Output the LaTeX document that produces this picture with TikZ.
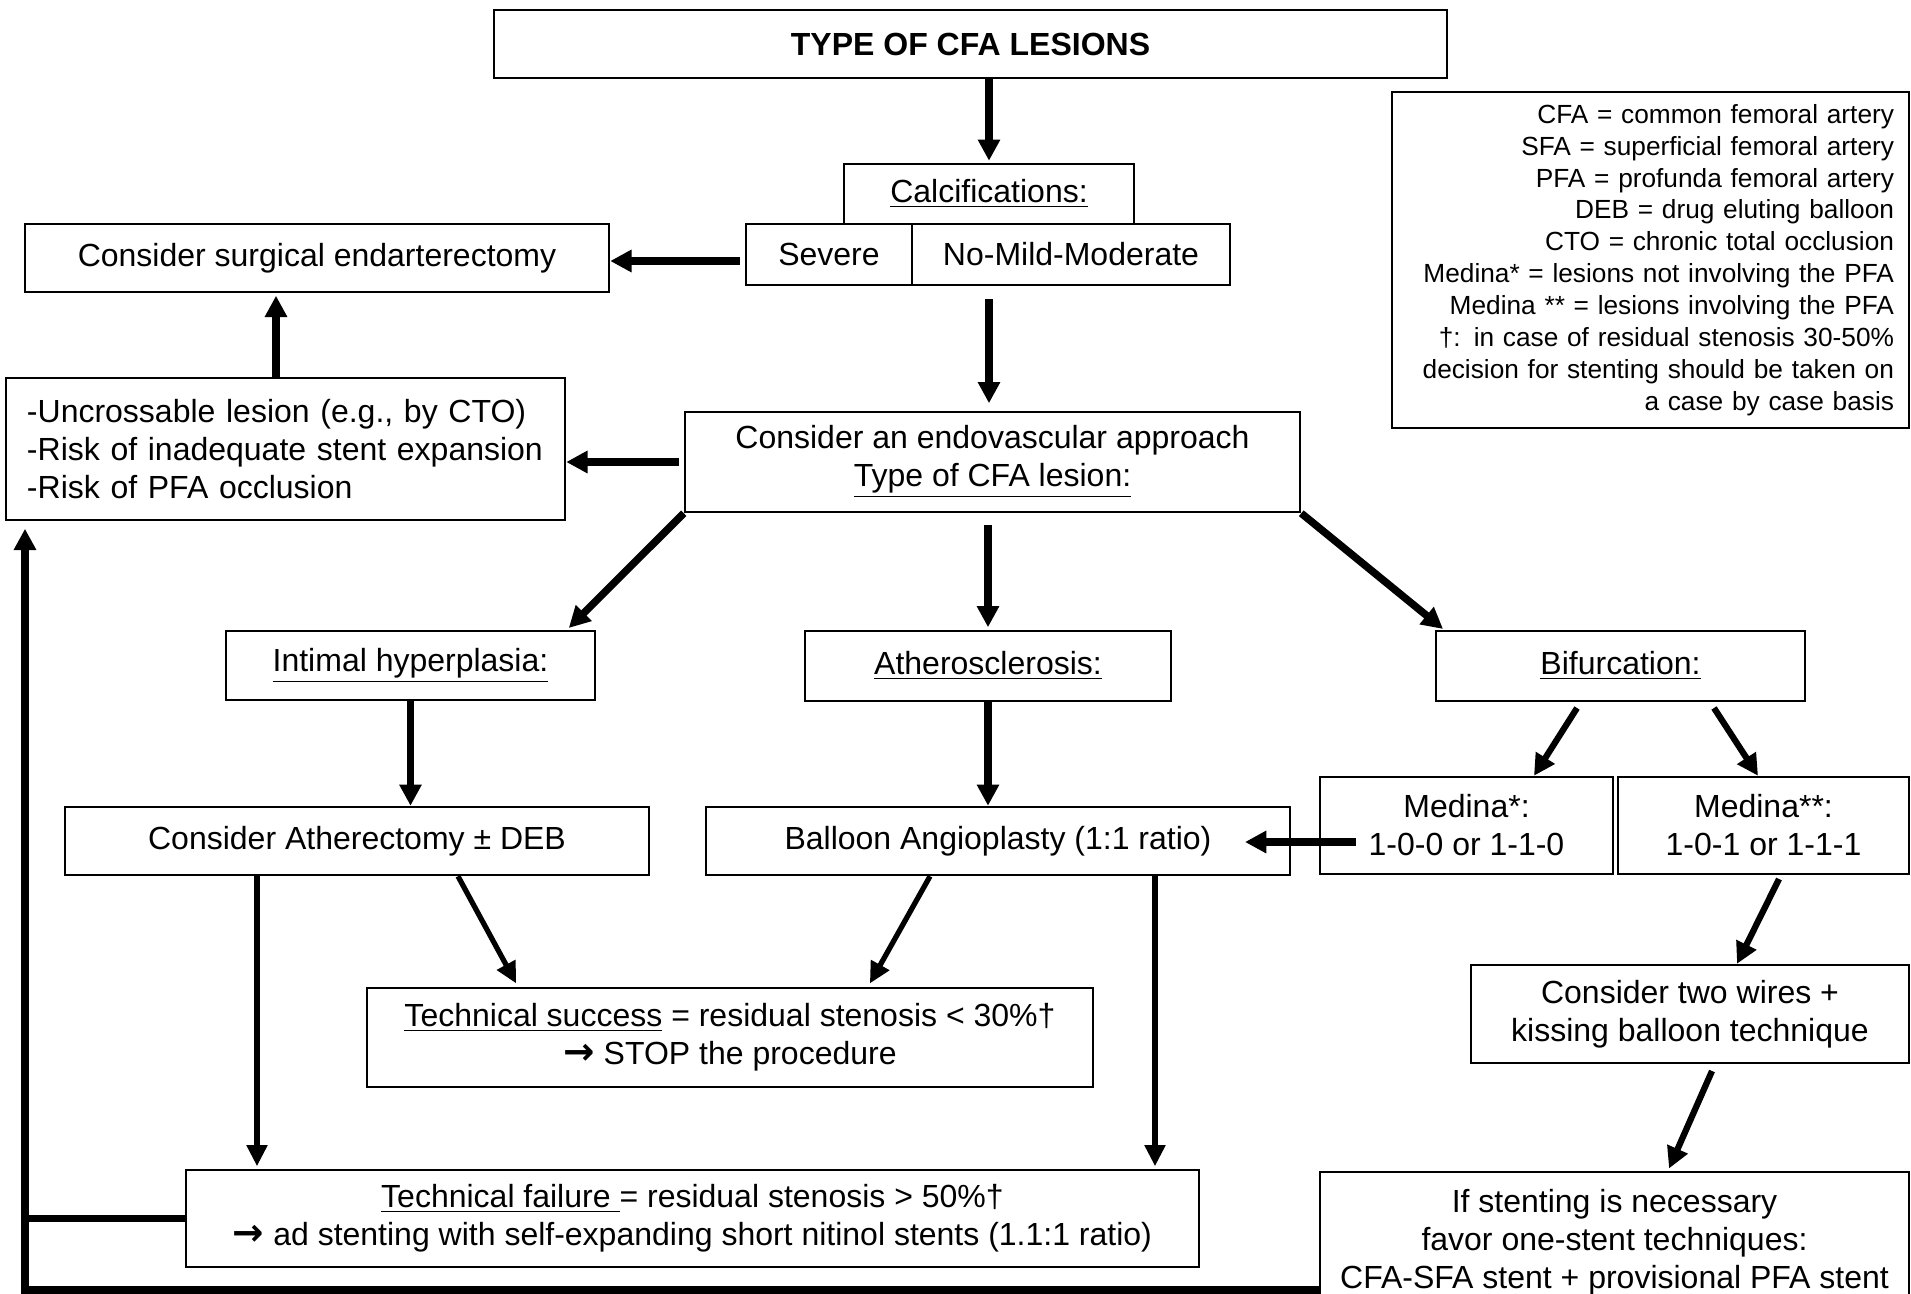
\documentclass[tikz,border=0pt]{standalone}
\usepackage{fontspec}
\setmainfont{Liberation Sans}
\newfontfamily\arrowfont{DejaVu Sans}
\usetikzlibrary{arrows.meta,calc}
\newcommand\mainfs{\fontsize{12.8}{15.2}\selectfont}
\newcommand\legfs{\fontsize{10.5}{12.76}\selectfont}
\newcommand\rarr{{\arrowfont\bfseries\fontsize{15}{15.2}\selectfont →}}
\tikzset{
  box/.style={draw=black, line width=1pt, fill=white, inner sep=0pt, align=center, font=\mainfs},
  arr/.style={line width=3pt, -{Triangle[length=8.5pt,width=8.5pt]}},
  arrmid/.style={line width=2.5pt, -{Triangle[length=8.5pt,width=8.5pt]}},
  arrthin/.style={line width=2.1pt, -{Triangle[length=8.5pt,width=8pt]}},
  fb/.style={line width=3pt},
}
% #1 options, #2 name, #3 x1, #4 y1, #5 x2, #6 y2, #7 text
\newcommand\mybox[7][]{%
  \node[box,#1,minimum width={(#5-#3)*0.4pt},minimum height={(#6-#4)*0.4pt}]
    (#2) at ({(#3+#5)/2},{(#4+#6)/2}) {#7};}
\begin{document}
\begin{tikzpicture}[x=0.4pt,y=-0.4pt]
\useasboundingbox (0,0) rectangle (1911,1293);
\fill[white] (0,0) rectangle (1911,1293);

% ---------- boxes ----------
\mybox{title}{494}{10}{1447}{78}{\bfseries TYPE OF CFA LESIONS}
\mybox{calc}{844}{164}{1134}{224}{\underline{Calcifications:}}
\mybox{sev}{746}{224}{912}{285}{Severe}
\mybox{nomild}{912}{224}{1230}{285}{No-Mild-Moderate}
\mybox{surg}{25}{224}{609}{292}{Consider surgical endarterectomy}
\mybox[text width=206.8pt, align=left]{uncross}{6}{378}{565}{520}{-Uncrossable lesion (e.g., by CTO)\\-Risk of inadequate stent expansion\\-Risk of PFA occlusion}
\mybox{endo}{685}{412}{1300}{512}{Consider an endovascular approach\\\underline{Type of CFA lesion:}}
\mybox[text width=194.8pt, align=right, font=\legfs]{legend}{1392}{92}{1909}{428}{CFA = common femoral artery\\SFA = superficial femoral artery\\PFA = profunda femoral artery\\DEB = drug eluting balloon\\CTO = chronic total occlusion\\Medina* = lesions not involving the PFA\\Medina ** = lesions involving the PFA\\†: in case of residual stenosis 30-50\%\\decision for stenting should be taken on\\a case by case basis}
\mybox{intimal}{226}{631}{595}{700}{\underline{Intimal hyperplasia:}}
\mybox{athero}{805}{631}{1171}{701}{\underline{Atherosclerosis:}}
\mybox{bif}{1436}{631}{1805}{701}{\underline{Bifurcation:}}
\mybox{ather}{65}{807}{649}{875}{Consider Atherectomy ± DEB}
\mybox{balloon}{706}{807}{1290}{875}{Balloon Angioplasty (1:1 ratio)}
\mybox{med1}{1320}{777}{1613}{874}{Medina*:\\1-0-0 or 1-1-0}
\mybox{med2}{1618}{777}{1909}{874}{Medina**:\\1-0-1 or 1-1-1}
\mybox{wires}{1471}{965}{1909}{1063}{Consider two wires +\\kissing balloon technique}
\mybox{success}{367}{988}{1093}{1087}{\underline{Technical success} = residual stenosis < 30\%†\\\rarr\ STOP the procedure}
\mybox{failure}{186}{1170}{1199}{1267}{\underline{Technical failure\ }= residual stenosis > 50\%†\\\rarr\ ad stenting with self-expanding short nitinol stents (1.1:1 ratio)}
\mybox{stent}{1320}{1172}{1909}{1312}{If stenting is necessary\\favor one-stent techniques:\\CFA-SFA stent + provisional PFA stent}

% ---------- helper coordinates ----------
\coordinate (s1) at ($(sev.west)+(-5,6.5)$);
\coordinate (ux) at (276,0);
\coordinate (ix) at (567,0);
\coordinate (bx) at (1444,0);
\coordinate (b1s) at (1577,708);
\coordinate (b1t) at (1534,0);
\coordinate (b2s) at (1714,708);
\coordinate (b2t) at (1758,0);
\coordinate (m1s) at (1356,842);
\coordinate (m1t) at (1245,842);
\coordinate (m2s) at (1779,879);
\coordinate (m2t) at (1737,0);
\coordinate (a1s) at (458,0);
\coordinate (a1t) at (518,0);
\coordinate (a2s) at (930,0);
\coordinate (a2t) at (868,0);
\coordinate (fx1) at (257,0);
\coordinate (fx2) at (1155,0);
\coordinate (w1s) at (1712,1071);
\coordinate (w1t) at (1668,0);
\coordinate (fbx) at (25,0);
\coordinate (fbb) at (0,1290);

% ---------- connectors ----------
\draw[arr, shorten >=0.8pt] (calc.north |- title.south) -- (calc.north);
\draw[arr] (s1) -- (surg.east |- s1);
\draw[arr, shorten <=5pt, shorten >=3pt] (sev.south -| calc.south) -- (endo.north -| calc.south);
\draw[arr, shorten <=2pt] (endo.west) -- (uncross.east |- endo.west);
\draw[arr, shorten >=1pt] (uncross.north -| ux) -- (surg.south -| ux);
\draw[arr, shorten >=1pt] (endo.south west) -- (intimal.north east -| ix);
\draw[arr, shorten <=4.5pt, shorten >=1pt] (endo.south -| athero.north) -- (athero.north);
\draw[arr, shorten >=0.5pt] (endo.south east) -- (bif.north west -| bx);
\draw[arr] (intimal.south) -- (ather.north -| intimal.south);
\draw[arr] (athero.south) -- (balloon.north -| athero.south);
\draw[arrmid] (b1s) -- (med1.north -| b1t);
\draw[arrmid] (b2s) -- (med2.north -| b2t);
\draw[arr] (m1s) -- (m1t);
\draw[arrmid] (m2s) -- (wires.north -| m2t);
\draw[arrthin, shorten >=1.5pt] (ather.south -| a1s) -- (success.north -| a1t);
\draw[arrthin, shorten >=1.5pt] (balloon.south -| a2s) -- (success.north -| a2t);
\draw[arrthin, shorten >=1pt] (ather.south -| fx1) -- (failure.north -| fx1);
\draw[arrthin, shorten >=1pt] (balloon.south -| fx2) -- (failure.north -| fx2);
\draw[arrmid, shorten >=1pt] (w1s) -- (stent.north -| w1t);
% feedback loop
\draw[fb] (failure.west) -- (fbx |- failure.west);
\draw[fb, -{Triangle[length=8.5pt,width=8.5pt]}, shorten >=3pt]
  (stent.west |- fbb) -- (fbx |- fbb) -- (uncross.south -| fbx);
\end{tikzpicture}
\end{document}
